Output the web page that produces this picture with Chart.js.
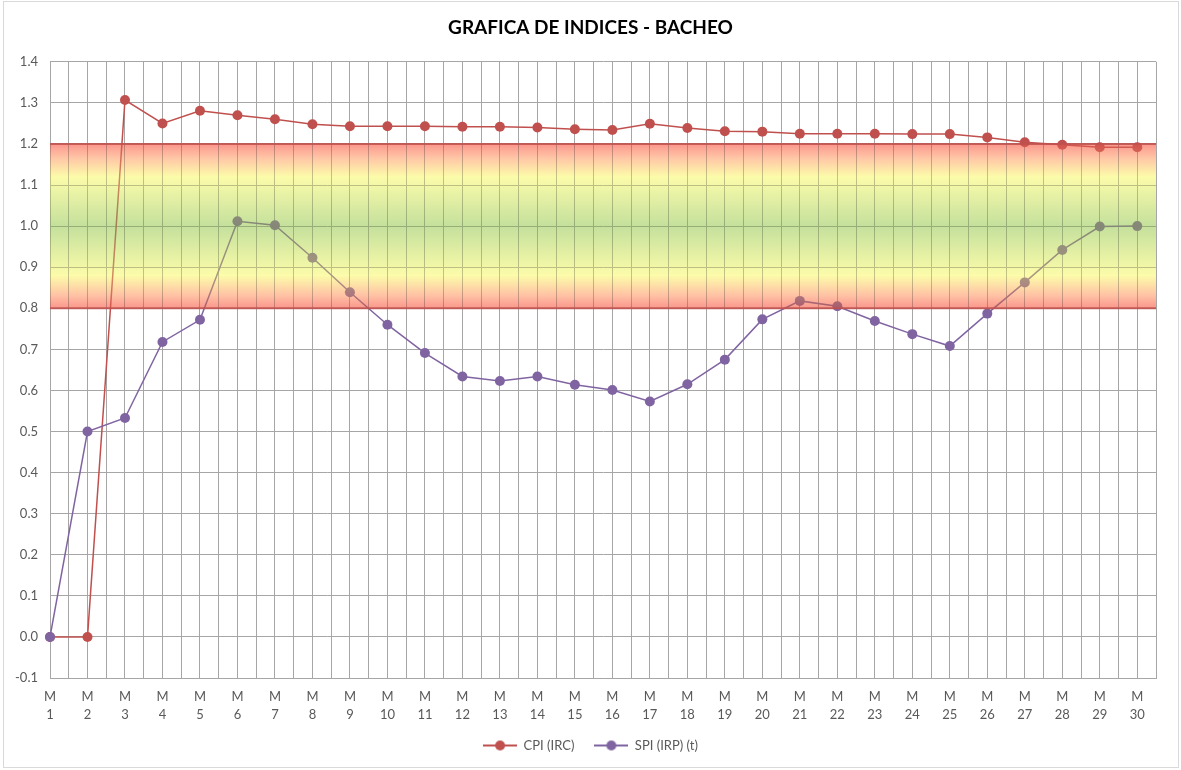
<!DOCTYPE html>
<html>
<head>
<meta charset="utf-8">
<script src="https://cdn.jsdelivr.net/npm/chart.js@4/dist/chart.umd.min.js"></script>
<style>
  html, body { margin: 0; padding: 0; background: #fff; }
  #wrap { width: 1181px; height: 770px; }
</style>
</head>
<body>
<div id="wrap"><canvas id="indices"></canvas></div>
<script>
// periods M1..M30
const periods = [1,2,3,4,5,6,7,8,9,10,11,12,13,14,15,16,17,18,19,20,21,22,23,24,25,26,27,28,29,30];
const cpi = [0.0,0.0,1.307,1.250,1.281,1.270,1.260,1.248,1.243,1.243,1.243,1.242,1.242,1.240,1.236,1.234,1.249,1.239,1.231,1.230,1.225,1.225,1.225,1.224,1.224,1.216,1.204,1.198,1.192,1.192];
const spi = [0.0,0.5,0.533,0.718,0.772,1.012,1.002,0.923,0.839,0.760,0.691,0.634,0.623,0.634,0.614,0.601,0.573,0.615,0.675,0.773,0.818,0.805,0.769,0.737,0.708,0.787,0.863,0.942,0.999,1.000];
const bandLow = 0.8, bandHigh = 1.2;

const RED = '#C0504D', PURPLE = '#8064A2';
const FONT = 'Lato, "DejaVu Sans", sans-serif';

function legendIcon(color) {
  const c = document.createElement('canvas');
  c.width = 34; c.height = 12;
  const g = c.getContext('2d');
  g.strokeStyle = color; g.lineWidth = 2;
  g.beginPath(); g.moveTo(0, 6); g.lineTo(34, 6); g.stroke();
  g.fillStyle = color;
  g.beginPath(); g.arc(17, 6, 5, 0, Math.PI * 2); g.fill();
  return c;
}
const icons = [legendIcon(RED), legendIcon(PURPLE)];

const frame = {
  id: 'frame',
  beforeDraw(chart) {
    const ctx = chart.ctx;
    ctx.save();
    ctx.fillStyle = '#fff';
    ctx.fillRect(0, 0, chart.width, chart.height);
    ctx.strokeStyle = '#d9d9d9';
    ctx.lineWidth = 1;
    ctx.strokeRect(3.5, 1.5, chart.width - 6, chart.height - 4);
    ctx.restore();
  }
};

// target band, painted over grid and lines like in the original
const band = {
  id: 'band',
  afterDatasetsDraw(chart) {
    const {ctx, chartArea: a, scales: {y}} = chart;
    const top = y.getPixelForValue(bandHigh), bot = y.getPixelForValue(bandLow);
    const gr = ctx.createLinearGradient(0, top, 0, bot);
    gr.addColorStop(0.00, 'rgb(250,150,140)');
    gr.addColorStop(0.08, 'rgb(255,195,165)');
    gr.addColorStop(0.20, 'rgb(252,252,170)');
    gr.addColorStop(0.50, 'rgb(196,224,156)');
    gr.addColorStop(0.80, 'rgb(252,252,170)');
    gr.addColorStop(0.92, 'rgb(255,195,165)');
    gr.addColorStop(1.00, 'rgb(250,150,140)');
    ctx.save();
    ctx.fillStyle = gr;
    ctx.globalCompositeOperation = 'multiply';
    ctx.fillRect(a.left, top, a.right - a.left, bot - top);
    ctx.globalCompositeOperation = 'source-over';
    ctx.globalAlpha = 0.35;
    ctx.fillRect(a.left, top, a.right - a.left, bot - top);
    ctx.globalAlpha = 1;
    ctx.strokeStyle = 'rgba(192,80,77,0.85)';
    ctx.lineWidth = 2;
    ctx.beginPath();
    ctx.moveTo(a.left, top); ctx.lineTo(a.right, top);
    ctx.moveTo(a.left, bot); ctx.lineTo(a.right, bot);
    ctx.stroke();
    ctx.restore();
  }
};

new Chart(document.getElementById('indices'), {
  type: 'line',
  data: {
    datasets: [
      {
        label: 'CPI (IRC)',
        data: periods.map((p, i) => ({x: p, y: cpi[i]})),
        borderColor: RED, backgroundColor: RED,
        borderWidth: 1.5, pointRadius: 5, pointHoverRadius: 5,
        pointBorderWidth: 0, tension: 0, clip: false, order: 1
      },
      {
        label: 'SPI (IRP) (t)',
        data: periods.map((p, i) => ({x: p, y: spi[i]})),
        borderColor: PURPLE, backgroundColor: PURPLE,
        borderWidth: 1.5, pointRadius: 5, pointHoverRadius: 5,
        pointBorderWidth: 0, tension: 0, clip: false, order: 0
      }
    ]
  },
  options: {
    responsive: true,
    maintainAspectRatio: false,
    animation: false,
    layout: { padding: { left: 0, right: 0, top: 0, bottom: 8 } },
    plugins: {
      title: {
        display: true,
        text: 'GRAFICA DE INDICES - BACHEO',
        color: '#000',
        font: { family: FONT, size: 19, weight: 'bold' },
        padding: { top: 16, bottom: 23 }
      },
      legend: {
        position: 'bottom',
        labels: {
          color: '#595959',
          font: { family: FONT, size: 13 },
          usePointStyle: true,
          pointStyleWidth: 34,
          padding: 20,
          sort: (a, b) => a.datasetIndex - b.datasetIndex,
          generateLabels(chart) {
            const items = Chart.defaults.plugins.legend.labels.generateLabels(chart);
            items.forEach(it => { it.pointStyle = icons[it.datasetIndex]; });
            return items;
          }
        }
      },
      tooltip: { enabled: false }
    },
    scales: {
      x: {
        type: 'linear',
        min: 1, max: 30.5,
        grid: { color: '#a6a6a6', lineWidth: 1, drawTicks: false },
        border: { color: '#a6a6a6' },
        ticks: {
          stepSize: 0.5,
          autoSkip: false,
          maxRotation: 0,
          padding: 10,
          color: '#595959',
          font: { family: FONT, size: 13, lineHeight: 1.35 },
          callback: v => Number.isInteger(v) && v <= 30 ? ['M', String(v)] : ''
        },
        afterFit(s) { s.height = 41; }
      },
      y: {
        min: -0.1, max: 1.4,
        grid: { color: '#a6a6a6', lineWidth: 1, drawTicks: false },
        border: { color: '#a6a6a6' },
        ticks: {
          stepSize: 0.1,
          padding: 12,
          color: '#595959',
          font: { family: FONT, size: 13 },
          callback: v => v.toFixed(1)
        },
        afterFit(s) { s.width = 50; }
      },
      spacer: {
        position: 'right',
        grid: { display: false },
        border: { display: false },
        ticks: { display: false },
        afterFit(s) { s.width = 25; }
      }
    }
  },
  plugins: [frame, band]
});
</script>
</body>
</html>
